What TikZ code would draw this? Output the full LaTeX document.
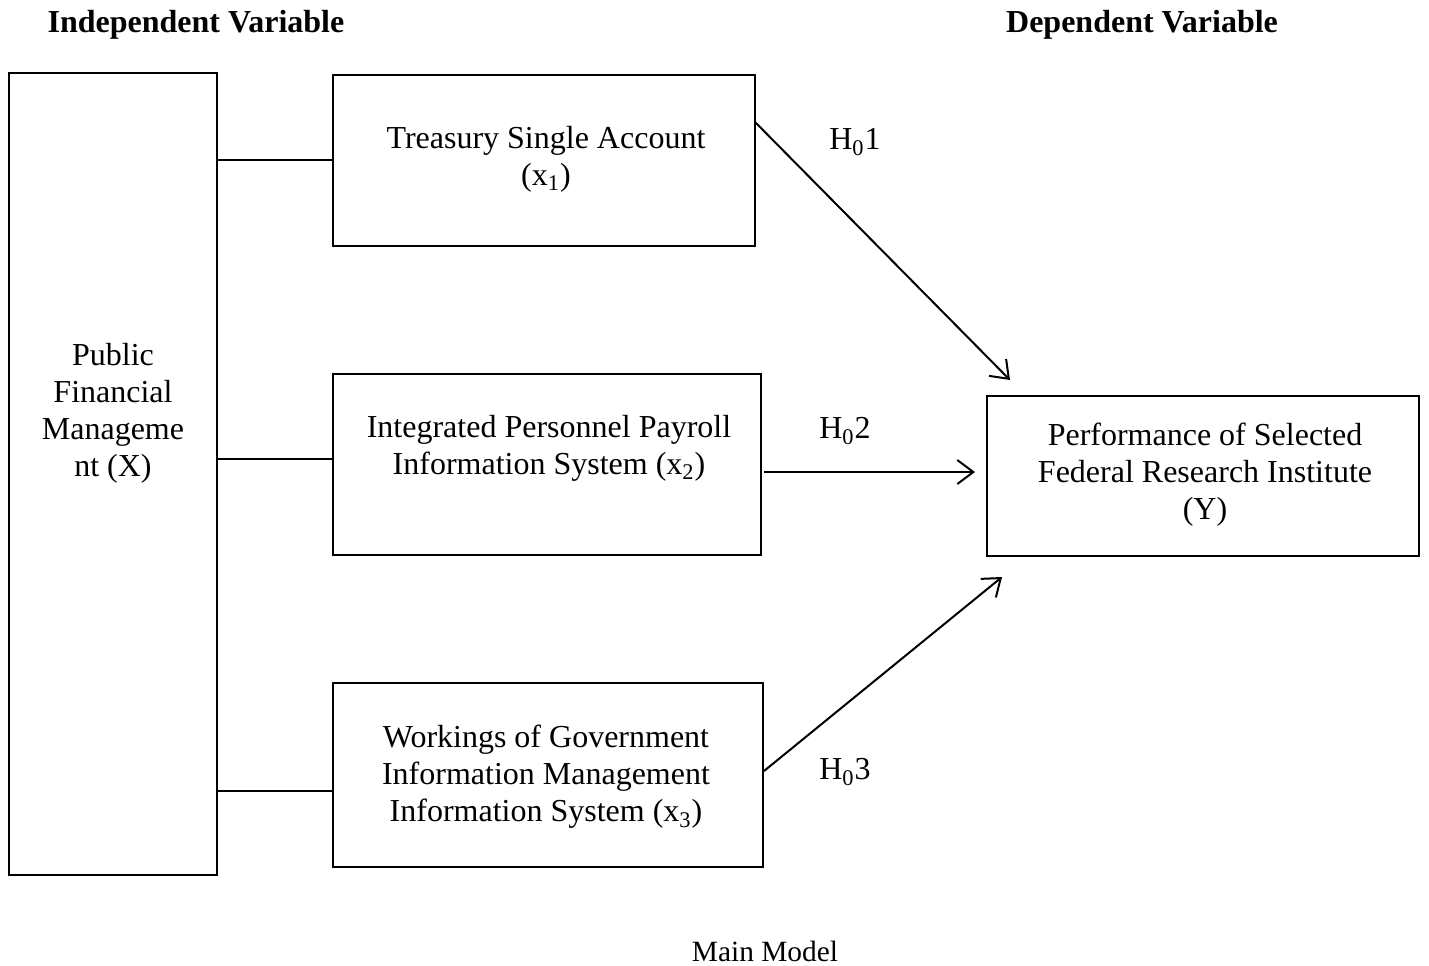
\documentclass[tikz,border=0pt]{standalone}
\usepackage{fontspec}
\setmainfont{Liberation Serif}
\usetikzlibrary{fit,arrows.meta}
\begin{document}
\begin{tikzpicture}[x=0.5pt,y=-0.5pt,
  every node/.style={font=\fontsize{16}{18.5}\selectfont},
  box/.style={draw,line width=1.2pt,inner sep=0pt},
  txt/.style={align=center,inner sep=0pt},
  head/.style={font=\fontsize{16}{18.5}\selectfont\bfseries,inner sep=0pt},
  link/.style={line width=1pt},
  arr/.style={line width=1pt,-{Straight Barb[length=8pt,width=12pt,line width=1pt]}},
  hyp/.style={inner sep=0pt},
  captext/.style={inner sep=0pt,font=\fontsize{14.7}{17}\selectfont}]
\fill[white] (0,0) rectangle (1429,965);
\useasboundingbox (0,0) rectangle (1429,965);

\node[head] (hIV) at (196,25) {Independent Variable};
\node[head] (hDV) at (1142,25) {Dependent Variable};

\node[box,fit={(9,73) (217,875)}] (L) {};
\node[box,fit={(333,75) (755,246)}] (B1) {};
\node[box,fit={(333,374) (761,555)}] (B2) {};
\node[box,fit={(333,683) (763,867)}] (B3) {};
\node[box,fit={(987,396) (1419,556)}] (R) {};

\node[txt] (tL) at (113,413) {Public\\Financial\\Manageme\\nt (X)};
\node[txt] (t1) at (546,159) {Treasury Single Account\\(x\textsubscript{1})};
\node[txt] (t2) at (549,448) {Integrated Personnel Payroll\\Information System (x\textsubscript{2})};
\node[txt] (t3) at (546,777) {Workings of Government\\Information Management\\Information System (x\textsubscript{3})};
\node[txt] (tR) at (1205,475) {Performance of Selected\\Federal Research Institute\\(Y)};

\coordinate (c1) at (217,160);
\coordinate (c2) at (217,459);
\coordinate (c3) at (217,791);
\draw[link] (c1) -- (B1.west |- c1);
\draw[link] (c2) -- (B2.west |- c2);
\draw[link] (c3) -- (B3.west |- c3);

\coordinate (a1s) at (755,122);
\coordinate (a1e) at (1010,380);
\coordinate (a2s) at (764,472);
\coordinate (a2e) at (975,472);
\coordinate (a3s) at (764,771);
\coordinate (a3e) at (1002,577);
\draw[arr] (a1s) -- (a1e);
\draw[arr] (a2s) -- (a2e);
\draw[arr] (a3s) -- (a3e);

\node[hyp] (h1) at (855,142) {H\textsubscript{0}1};
\node[hyp] (h2) at (845,431) {H\textsubscript{0}2};
\node[hyp] (h3) at (845,772) {H\textsubscript{0}3};

\node[captext] (cap) at (765,951) {Main Model};
\end{tikzpicture}
\end{document}
